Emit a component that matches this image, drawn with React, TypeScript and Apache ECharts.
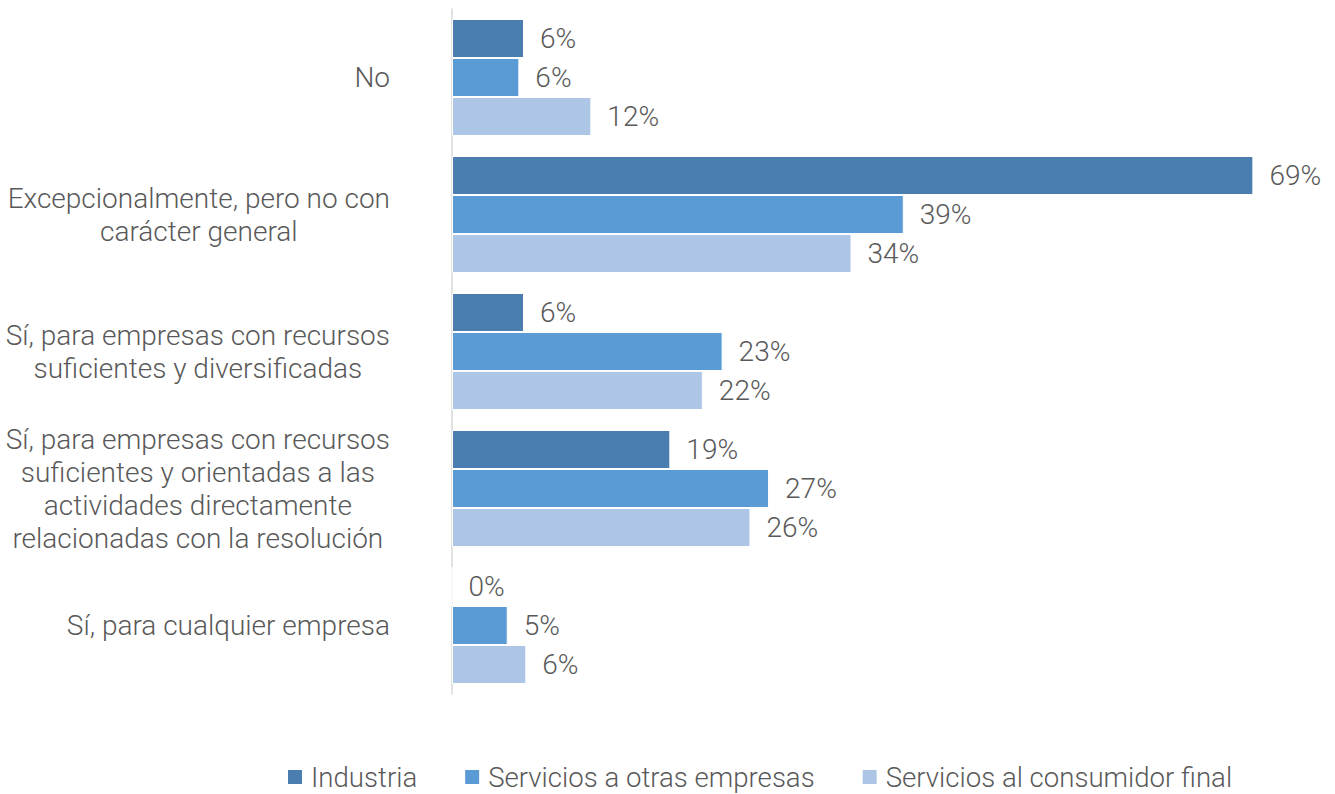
import React, { useEffect, useRef } from "react";
import * as echarts from "echarts";

const categories = [
  "No",
  "Excepcionalmente, pero no con\ncarácter general",
  "Sí, para empresas con recursos\nsuficientes y diversificadas",
  "Sí, para empresas con recursos\nsuficientes y orientadas a las\nactividades directamente\nrelacionadas con la resolución",
  "Sí, para cualquier empresa",
];
const seriesNames = ["Industria", "Servicios a otras empresas", "Servicios al consumidor final"];
const industria = [6.2, 69.0, 6.2, 18.8, 0];
const serviciosEmpresas = [5.8, 38.9, 23.3, 27.3, 4.8];
const serviciosConsumidor = [12.0, 34.4, 21.6, 25.7, 6.4];
const colors = ["#4a7eb0", "#5b9bd5", "#adc6e6"];

const FONT = "Roboto";
const TXT = "#595959";
const FS = 28;

export default function App() {
  const ref = useRef<HTMLDivElement>(null);
  useEffect(() => {
    const chart = echarts.init(ref.current!, null, { renderer: "svg" });
    const data = [industria, serviciosEmpresas, serviciosConsumidor];
    chart.setOption({
      animation: false,
      textStyle: { fontFamily: FONT, fontWeight: 300 },
      legend: {
        top: 758,
        left: 281,
        itemWidth: 16,
        itemHeight: 16,
        itemGap: 46,
        icon: "rect",
        textStyle: { color: TXT, fontSize: 27.6, fontFamily: FONT, fontWeight: 300, padding: [0, 0, 0, 3] },
        data: seriesNames,
      },
      grid: { left: 452, right: 70, top: 9, bottom: 100, containLabel: false },
      xAxis: {
        type: "value",
        min: 0,
        max: 70,
        show: false,
        splitLine: { show: false },
      },
      yAxis: {
        type: "category",
        inverse: true,
        data: categories,
        axisLine: { show: true, lineStyle: { color: "#d9d9d9", width: 1.5 } },
        axisTick: { show: false },
        axisLabel: {
          margin: 62,
          align: "right",
          fontSize: FS,
          color: TXT,
          fontFamily: FONT,
          fontWeight: 300,
          lineHeight: 33,
          formatter: (v: string) =>
            v.split("\n").map((l) => `{c|${l}}`).join("\n"),
          rich: {
            c: { align: "center", fontSize: FS, color: TXT, fontFamily: FONT, fontWeight: 300, lineHeight: 33 },
          },
        },
      },
      series: seriesNames.map((name, i) => ({
        name,
        type: "bar",
        data: data[i],
        barWidth: 39,
        barGap: "0%",
        itemStyle: { color: colors[i], borderColor: "#ffffff", borderWidth: 1 },
        label: {
          show: true,
          position: "right",
          distance: 16,
          fontSize: FS,
          color: TXT,
          fontFamily: FONT,
          fontWeight: 300,
          formatter: (p: any) => `${Math.round(p.value)}%`,
        },
      })),
    });
    return () => chart.dispose();
  }, []);
  return (
    <div
      ref={ref}
      style={{ position: "fixed", left: 0, top: 0, width: 1335, height: 794, background: "#fff" }}
    />
  );
}
